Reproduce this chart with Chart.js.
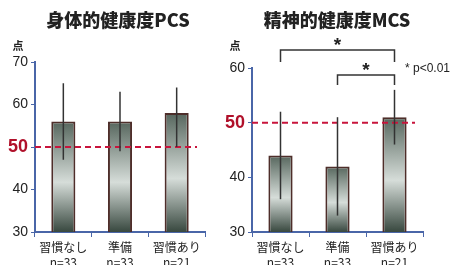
<!DOCTYPE html>
<html>
<head>
<meta charset="utf-8">
<script src="https://cdn.jsdelivr.net/npm/chart.js@4.4.0/dist/chart.umd.min.js"></script>
<style>
  html, body { margin: 0; padding: 0; background: #fff; }
  #wrap { position: relative; width: 451px; height: 265px; }
  canvas { position: absolute; top: 0; }
</style>
</head>
<body>
<div id="wrap">
  <canvas id="pcs" width="225" height="265" style="left:0"></canvas>
  <canvas id="mcs" width="226" height="265" style="left:225px"></canvas>
</div>
<script>
const categories = [['習慣なし', 'n=33'], ['準備', 'n=33'], ['習慣あり', 'n=21']];

const pcsMeans = [56, 56, 58];
const pcsLow = [47, 49, 50];
const pcsHigh = [65, 63, 64];

const mcsMeans = [44, 42, 51];
const mcsLow = [36, 33, 46];
const mcsHigh = [52, 51, 56];

const refValue = 50;

const FONT = "'Liberation Sans', 'Noto Sans CJK JP', sans-serif";
const JP = "'Noto Sans CJK JP', 'Liberation Sans', sans-serif";

function barFill(ctx) {
    const chart = ctx.chart;
    const area = chart.chartArea;
    if (!area || !ctx.parsed) return '#8a9a90';
    const y = chart.scales.y;
    const top = y.getPixelForValue(ctx.parsed.y);
    const g = chart.ctx.createLinearGradient(0, top, 0, area.bottom);
    g.addColorStop(0, '#56665d');
    g.addColorStop(0.55, '#d6ddd9');
    g.addColorStop(1, '#38483f');
    return g;
}

const isRef = t => t.tick && t.tick.value === refValue;

const decorations = {
    id: 'decorations',
    afterDatasetsDraw(chart, args, opts) {
        const c = chart.ctx;
        const x = chart.scales.x, y = chart.scales.y;
        const area = chart.chartArea;

        // reference line
        c.save();
        c.strokeStyle = '#c8143c';
        c.lineWidth = 2;
        c.setLineDash([6, 4]);
        const ry = y.getPixelForValue(refValue);
        c.beginPath();
        c.moveTo(area.left, ry);
        c.lineTo(area.right - 8, ry);
        c.stroke();
        c.restore();

        // error bars
        c.save();
        c.strokeStyle = '#333';
        c.lineWidth = 1.5;
        opts.low.forEach((lo, i) => {
            const px = x.getPixelForValue(i);
            c.beginPath();
            c.moveTo(px, y.getPixelForValue(lo));
            c.lineTo(px, y.getPixelForValue(opts.high[i]));
            c.stroke();
        });
        c.restore();

        // title and unit
        c.save();
        c.fillStyle = '#222';
        c.textAlign = 'center';
        c.textBaseline = 'middle';
        c.font = '900 18px ' + JP;
        c.fillText(opts.title, opts.titleX, 20);
        c.font = 'bold 11px ' + JP;
        c.fillText('点', opts.unitX, 46);
        c.restore();

        // significance brackets
        if (opts.brackets) {
            c.save();
            c.strokeStyle = '#333';
            c.fillStyle = '#222';
            c.lineWidth = 1.5;
            c.textAlign = 'center';
            c.textBaseline = 'middle';
            opts.brackets.forEach(b => {
                const x1 = x.getPixelForValue(b.from);
                const x2 = x.getPixelForValue(b.to);
                const yt = y.getPixelForValue(b.top);
                const yb = y.getPixelForValue(b.bottom);
                c.beginPath();
                c.moveTo(x1, yb);
                c.lineTo(x1, yt);
                c.lineTo(x2, yt);
                c.lineTo(x2, yb);
                c.stroke();
                c.font = 'bold 19px ' + FONT;
                c.fillText('*', (x1 + x2) / 2, yt - 4);
            });
            c.font = '12px ' + FONT;
            c.textAlign = 'left';
            c.fillText('* p<0.01', 180, 69);
            c.restore();
        }
    }
};

function makeChart(id, means, low, high, yMax, axisWidth, padTop, padRight, extra) {
    new Chart(document.getElementById(id), {
        type: 'bar',
        data: {
            labels: categories,
            datasets: [{
                data: means,
                backgroundColor: barFill,
                borderColor: '#4e2e2a',
                borderWidth: 2,
                borderSkipped: 'bottom',
                barPercentage: 0.85,
                categoryPercentage: 0.5
            }]
        },
        options: {
            responsive: false,
            animation: false,
            layout: { padding: { top: padTop, right: padRight, left: 0, bottom: 0 } },
            plugins: {
                legend: { display: false },
                tooltip: { enabled: false },
                decorations: Object.assign({ low: low, high: high }, extra)
            },
            scales: {
                x: {
                    grid: { offset: true, drawOnChartArea: false, tickLength: 5, color: '#4a66a8' },
                    border: { color: '#4a66a8', width: 2 },
                    ticks: {
                        color: '#222',
                        font: { size: 12, family: JP, lineHeight: 1.25 },
                        padding: 3,
                        maxRotation: 0,
                        minRotation: 0,
                        autoSkip: false
                    },
                    afterFit(s) { s.height = 33; }
                },
                y: {
                    min: 30,
                    max: yMax,
                    grid: { drawOnChartArea: false, tickLength: 4, color: '#4a66a8' },
                    border: { color: '#4a66a8', width: 2 },
                    ticks: {
                        stepSize: 10,
                        padding: 3,
                        color: t => isRef(t) ? '#b0102a' : '#222',
                        font: t => isRef(t)
                            ? { size: 18, weight: 'bold', family: FONT }
                            : { size: 14, family: FONT }
                    },
                    afterFit(s) { s.width = axisWidth; }
                }
            }
        },
        plugins: [decorations]
    });
}

makeChart('pcs', pcsMeans, pcsLow, pcsHigh, 70, 35, 62, 20,
    { title: '身体的健康度PCS', titleX: 118, unitX: 18 });

makeChart('mcs', mcsMeans, mcsLow, mcsHigh, 60, 27, 68, 28,
    { title: '精神的健康度MCS', titleX: 112, unitX: 10,
      brackets: [
          { from: 0, to: 2, top: 63.3, bottom: 61.1 },
          { from: 1, to: 2, top: 58.7, bottom: 56.9 }
      ] });
</script>
</body>
</html>
